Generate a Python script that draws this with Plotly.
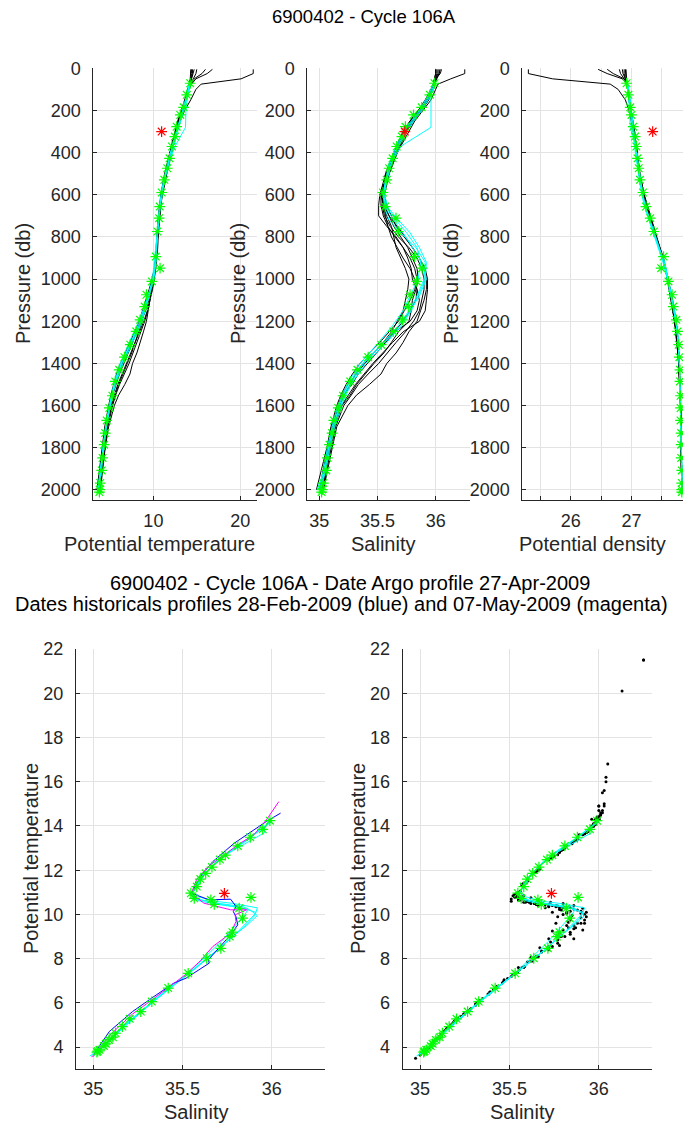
import plotly.graph_objects as go

W, H = 683, 1126

# ---------------- Argo profile (green stars) ----------------
P_ARGO = [71, 126, 185, 221, 277, 324, 371, 427, 474, 529, 589, 656, 711, 774, 893, 948, 1011, 1074,
          1130, 1193, 1248, 1311, 1370, 1430, 1485, 1553, 1611, 1670, 1730, 1785, 1848, 1907, 1967, 1998, 2010]
T_ARGO = [14.24, 13.85, 13.49, 13.1, 12.68, 12.48, 12.14, 11.86, 11.6, 11.26, 10.96, 10.73, 10.66, 10.46,
          10.28, 10.77, 9.83, 9.2, 9.0, 8.47, 8.02, 7.34, 6.67, 6.06, 5.61, 5.28, 4.93, 4.63, 4.45, 4.33,
          4.15, 4.05, 3.88, 3.82, 3.78]
S_ARGO = [35.99, 35.95, 35.88, 35.81, 35.74, 35.71, 35.665, 35.63, 35.60, 35.58, 35.547, 35.566, 35.659,
          35.678, 35.818, 35.884, 35.837, 35.78, 35.765, 35.715, 35.636, 35.532, 35.42, 35.328, 35.266,
          35.204, 35.163, 35.125, 35.11, 35.088, 35.07, 35.06, 35.035, 35.025, 35.02]
SIG_ARGO = [26.92, 26.95, 26.98, 27.0, 27.03, 27.06, 27.08, 27.10, 27.12, 27.14, 27.19, 27.24, 27.31, 27.37,
            27.53, 27.49, 27.61, 27.67, 27.69, 27.74, 27.76, 27.78, 27.79, 27.80, 27.80, 27.81, 27.81, 27.81,
            27.82, 27.82, 27.82, 27.83, 27.83, 27.83, 27.83]

# ---------------- flagged point (red star) ----------------
P_RED = 300
T_RED = 10.95
S_RED = 35.735
SIG_RED = 27.35

# ---------------- historical profiles (black) ----------------
P_HIST = [5, 25, 50, 75, 100, 150, 200, 250, 300, 400, 500, 600, 650, 700, 750, 800, 850, 900, 950, 1000,
          1050, 1100, 1150, 1200, 1250, 1300, 1350, 1400, 1450, 1500, 1550, 1600, 1700, 1800, 1900, 2000]
T_HIST = [
    [21.5, 21.5, 20.1, 15.5, 14.9, 14.3, 13.6, 13.1, 12.7, 12.1, 11.55, 11.05, 10.85, 10.75, 10.62, 10.55, 10.5, 10.4, 10.28, 10.1, 9.9, 9.6, 9.3, 8.9, 8.4, 7.9, 7.4, 6.9, 6.4, 5.9, 5.5, 5.15, 4.65, 4.3, 4.05, 3.8],
    [16.8, 16.2, 14.9, 14.4, 14.1, 13.75, 13.35, 12.95, 12.6, 12.0, 11.4, 10.9, 10.72, 10.6, 10.5, 10.45, 10.4, 10.3, 10.15, 9.95, 9.65, 9.3, 9.0, 8.7, 8.3, 7.9, 7.5, 7.0, 6.5, 6.0, 5.6, 5.2, 4.7, 4.35, 4.1, 3.85],
    [16.0, 15.6, 14.7, 14.3, 14.0, 13.6, 13.2, 12.8, 12.5, 11.9, 11.3, 10.85, 10.7, 10.6, 10.55, 10.5, 10.45, 10.35, 10.2, 10.0, 9.8, 9.5, 9.1, 8.6, 8.1, 7.6, 7.1, 6.6, 6.1, 5.7, 5.3, 5.0, 4.5, 4.2, 3.95, 3.7],
    [15.0, 14.9, 14.6, 14.3, 14.0, 13.65, 13.3, 12.9, 12.55, 11.95, 11.4, 10.95, 10.8, 10.7, 10.6, 10.5, 10.42, 10.3, 10.1, 9.9, 9.6, 9.25, 8.9, 8.5, 8.05, 7.6, 7.05, 6.5, 6.0, 5.5, 5.2, 4.9, 4.45, 4.15, 3.9, 3.65],
    [14.7, 14.6, 14.4, 14.2, 14.0, 13.7, 13.35, 12.95, 12.6, 12.0, 11.45, 10.95, 10.8, 10.65, 10.55, 10.45, 10.38, 10.3, 10.2, 10.05, 9.85, 9.6, 9.35, 9.0, 8.55, 8.1, 7.65, 7.2, 6.65, 6.1, 5.65, 5.3, 4.75, 4.4, 4.1, 3.85],
    [14.5, 14.5, 14.35, 14.2, 14.05, 13.75, 13.4, 13.0, 12.65, 12.05, 11.5, 11.0, 10.85, 10.7, 10.6, 10.5, 10.45, 10.35, 10.22, 10.05, 9.75, 9.4, 9.0, 8.55, 8.05, 7.5, 6.95, 6.4, 5.95, 5.6, 5.3, 5.05, 4.6, 4.3, 4.05, 3.8],
    [14.4, 14.4, 14.3, 14.15, 14.0, 13.7, 13.3, 12.9, 12.55, 11.95, 11.4, 10.9, 10.75, 10.6, 10.48, 10.4, 10.33, 10.25, 10.15, 10.0, 9.75, 9.6, 9.4, 9.2, 8.85, 8.5, 8.1, 7.6, 7.3, 6.7, 6.0, 5.5, 4.85, 4.45, 4.15, 3.9],
    [14.3, 14.3, 14.25, 14.1, 13.95, 13.65, 13.25, 12.85, 12.5, 11.9, 11.35, 10.9, 10.78, 10.65, 10.55, 10.45, 10.38, 10.3, 10.1, 9.85, 9.5, 9.15, 8.75, 8.35, 7.85, 7.3, 6.75, 6.2, 5.75, 5.4, 5.1, 4.85, 4.4, 4.1, 3.8, 3.5],
]
S_HIST = [
    [36.25, 36.25, 36.13, 36.02, 36.0, 35.96, 35.89, 35.82, 35.77, 35.67, 35.60, 35.56, 35.58, 35.62, 35.66, 35.73, 35.80, 35.86, 35.91, 35.93, 35.93, 35.92, 35.91, 35.86, 35.72, 35.63, 35.545, 35.46, 35.385, 35.31, 35.25, 35.19, 35.125, 35.085, 35.06, 35.02],
    [36.05, 36.04, 36.0, 35.99, 35.97, 35.93, 35.87, 35.80, 35.74, 35.65, 35.58, 35.53, 35.55, 35.60, 35.64, 35.70, 35.76, 35.80, 35.84, 35.85, 35.83, 35.80, 35.79, 35.77, 35.68, 35.62, 35.555, 35.47, 35.395, 35.32, 35.265, 35.195, 35.13, 35.09, 35.065, 35.03],
    [36.04, 36.03, 36.0, 35.98, 35.96, 35.91, 35.85, 35.78, 35.72, 35.64, 35.57, 35.52, 35.51, 35.51, 35.58, 35.66, 35.72, 35.76, 35.79, 35.80, 35.84, 35.86, 35.84, 35.78, 35.65, 35.57, 35.49, 35.41, 35.335, 35.28, 35.21, 35.17, 35.11, 35.075, 35.045, 35.005],
    [36.03, 36.03, 36.01, 35.99, 35.97, 35.92, 35.86, 35.79, 35.73, 35.65, 35.58, 35.54, 35.55, 35.58, 35.62, 35.64, 35.66, 35.70, 35.74, 35.77, 35.76, 35.74, 35.72, 35.67, 35.62, 35.55, 35.47, 35.39, 35.32, 35.245, 35.195, 35.16, 35.11, 35.07, 35.035, 35.0],
    [36.02, 36.02, 36.0, 35.99, 35.97, 35.93, 35.87, 35.80, 35.74, 35.66, 35.59, 35.55, 35.54, 35.56, 35.61, 35.68, 35.77, 35.84, 35.88, 35.90, 35.90, 35.88, 35.86, 35.81, 35.74, 35.66, 35.585, 35.51, 35.42, 35.335, 35.275, 35.21, 35.14, 35.10, 35.065, 35.03],
    [36.01, 36.01, 36.0, 35.99, 35.98, 35.94, 35.88, 35.81, 35.75, 35.67, 35.60, 35.55, 35.55, 35.57, 35.59, 35.62, 35.67, 35.72, 35.78, 35.82, 35.84, 35.83, 35.78, 35.72, 35.645, 35.555, 35.465, 35.38, 35.31, 35.265, 35.21, 35.18, 35.12, 35.085, 35.06, 35.02],
    [36.0, 36.0, 35.99, 35.98, 35.97, 35.93, 35.86, 35.79, 35.73, 35.65, 35.58, 35.54, 35.56, 35.60, 35.67, 35.74, 35.80, 35.86, 35.90, 35.92, 35.92, 35.90, 35.87, 35.84, 35.77, 35.72, 35.66, 35.58, 35.53, 35.43, 35.32, 35.245, 35.15, 35.11, 35.07, 35.035],
    [36.0, 36.0, 35.99, 35.98, 35.96, 35.92, 35.85, 35.78, 35.72, 35.64, 35.57, 35.53, 35.53, 35.55, 35.59, 35.65, 35.72, 35.78, 35.82, 35.84, 35.82, 35.78, 35.73, 35.68, 35.60, 35.52, 35.43, 35.35, 35.285, 35.23, 35.185, 35.15, 35.10, 35.065, 35.02, 34.975],
]
SIG_HIST = [
    [25.3, 25.3, 25.7, 26.65, 26.78, 26.9, 26.96, 27.0, 27.03, 27.08, 27.12, 27.19, 27.24, 27.29, 27.35, 27.41, 27.47, 27.52, 27.56, 27.59, 27.63, 27.66, 27.69, 27.72, 27.74, 27.76, 27.77, 27.78, 27.79, 27.80, 27.80, 27.81, 27.81, 27.82, 27.82, 27.83],
    [26.45, 26.6, 26.85, 26.92, 26.94, 26.96, 26.98, 27.01, 27.04, 27.09, 27.13, 27.2, 27.25, 27.3, 27.35, 27.4, 27.46, 27.52, 27.56, 27.6, 27.64, 27.67, 27.7, 27.72, 27.74, 27.76, 27.77, 27.78, 27.79, 27.8, 27.8, 27.81, 27.81, 27.82, 27.82, 27.83],
    [26.6, 26.7, 26.88, 26.93, 26.95, 26.97, 26.99, 27.02, 27.05, 27.1, 27.14, 27.21, 27.26, 27.3, 27.35, 27.4, 27.46, 27.52, 27.56, 27.6, 27.64, 27.66, 27.69, 27.72, 27.74, 27.76, 27.77, 27.78, 27.79, 27.8, 27.8, 27.81, 27.82, 27.82, 27.83, 27.83],
    [26.8, 26.82, 26.88, 26.92, 26.94, 26.97, 26.99, 27.02, 27.05, 27.09, 27.13, 27.2, 27.25, 27.3, 27.35, 27.4, 27.46, 27.52, 27.56, 27.6, 27.64, 27.67, 27.7, 27.73, 27.75, 27.77, 27.78, 27.79, 27.79, 27.8, 27.8, 27.81, 27.82, 27.82, 27.83, 27.83],
    [26.85, 26.86, 26.9, 26.92, 26.94, 26.96, 26.98, 27.01, 27.04, 27.09, 27.13, 27.2, 27.24, 27.3, 27.35, 27.4, 27.46, 27.52, 27.56, 27.6, 27.63, 27.66, 27.69, 27.71, 27.73, 27.75, 27.77, 27.78, 27.79, 27.8, 27.8, 27.81, 27.81, 27.82, 27.82, 27.83],
    [26.88, 26.88, 26.9, 26.92, 26.94, 26.96, 26.98, 27.01, 27.04, 27.09, 27.13, 27.2, 27.25, 27.3, 27.35, 27.4, 27.46, 27.52, 27.56, 27.6, 27.64, 27.67, 27.7, 27.73, 27.75, 27.77, 27.78, 27.79, 27.79, 27.8, 27.8, 27.81, 27.82, 27.82, 27.83, 27.83],
    [26.9, 26.9, 26.91, 26.93, 26.94, 26.96, 26.98, 27.01, 27.04, 27.09, 27.13, 27.2, 27.25, 27.31, 27.36, 27.41, 27.47, 27.52, 27.56, 27.6, 27.63, 27.66, 27.69, 27.71, 27.73, 27.75, 27.77, 27.78, 27.79, 27.8, 27.8, 27.81, 27.81, 27.82, 27.82, 27.83],
    [26.91, 26.91, 26.92, 26.93, 26.95, 26.97, 26.99, 27.02, 27.05, 27.1, 27.14, 27.21, 27.26, 27.31, 27.36, 27.41, 27.47, 27.53, 27.57, 27.61, 27.65, 27.68, 27.71, 27.74, 27.76, 27.77, 27.78, 27.79, 27.8, 27.8, 27.81, 27.81, 27.82, 27.82, 27.83, 27.83],
]

# ---------------- selected profiles (cyan) ----------------
P_CYAN = [75, 125, 200, 280, 370, 450, 530, 600, 660, 720, 780, 850, 920, 1000, 1080, 1150, 1220, 1300,
          1400, 1500, 1600, 1700, 1800, 1900, 2000]
T_CYAN = [
    [14.2, 13.95, 13.75, 13.7, 12.5, 11.75, 11.25, 10.95, 10.75, 10.6, 10.45, 10.3, 10.1, 9.9, 9.4, 8.9, 8.3, 7.45, 6.3, 5.5, 4.95, 4.5, 4.2, 3.95, 3.6],
    [14.15, 13.9, 13.4, 12.8, 12.2, 11.7, 11.2, 10.9, 10.7, 10.6, 10.45, 10.35, 10.2, 9.95, 9.5, 9.0, 8.4, 7.5, 6.35, 5.55, 5.0, 4.55, 4.25, 4.0, 3.7],
    [14.1, 13.85, 13.35, 12.75, 12.15, 11.65, 11.2, 10.9, 10.7, 10.55, 10.45, 10.35, 10.25, 10.0, 9.35, 8.8, 8.1, 7.2, 6.2, 5.45, 4.9, 4.5, 4.2, 3.95, 3.65],
    [14.25, 14.0, 13.5, 12.9, 12.3, 11.8, 11.3, 11.0, 10.8, 10.6, 10.5, 10.4, 10.3, 10.05, 9.55, 9.05, 8.5, 7.6, 6.5, 5.6, 5.05, 4.6, 4.3, 4.05, 3.75],
]
S_CYAN = [
    [36.0, 35.96, 35.96, 35.96, 35.70, 35.62, 35.58, 35.55, 35.56, 35.60, 35.70, 35.83, 35.91, 35.90, 35.84, 35.77, 35.68, 35.55, 35.37, 35.25, 35.17, 35.12, 35.08, 35.05, 34.98],
    [35.99, 35.95, 35.87, 35.76, 35.67, 35.61, 35.57, 35.55, 35.57, 35.64, 35.72, 35.80, 35.88, 35.92, 35.86, 35.78, 35.70, 35.56, 35.38, 35.26, 35.18, 35.12, 35.08, 35.05, 35.0],
    [35.98, 35.94, 35.86, 35.75, 35.66, 35.60, 35.57, 35.55, 35.58, 35.66, 35.75, 35.84, 35.87, 35.85, 35.78, 35.72, 35.63, 35.51, 35.35, 35.24, 35.16, 35.11, 35.07, 35.04, 34.99],
    [36.0, 35.96, 35.88, 35.77, 35.68, 35.62, 35.58, 35.56, 35.59, 35.68, 35.78, 35.86, 35.92, 35.91, 35.85, 35.79, 35.71, 35.58, 35.40, 35.27, 35.19, 35.13, 35.09, 35.06, 35.01],
]
SIG_CYAN = [
    [26.92, 26.95, 26.97, 26.98, 27.07, 27.11, 27.14, 27.18, 27.23, 27.29, 27.36, 27.45, 27.55, 27.6, 27.66, 27.7, 27.74, 27.77, 27.79, 27.8, 27.81, 27.82, 27.82, 27.83, 27.83],
    [26.93, 26.96, 26.99, 27.02, 27.06, 27.1, 27.14, 27.18, 27.23, 27.3, 27.37, 27.44, 27.53, 27.6, 27.66, 27.7, 27.74, 27.77, 27.79, 27.8, 27.81, 27.82, 27.82, 27.83, 27.83],
    [26.94, 26.97, 27.0, 27.03, 27.07, 27.11, 27.15, 27.19, 27.24, 27.31, 27.38, 27.46, 27.54, 27.61, 27.67, 27.71, 27.75, 27.78, 27.79, 27.8, 27.81, 27.82, 27.82, 27.83, 27.83],
    [26.92, 26.95, 26.98, 27.01, 27.05, 27.09, 27.13, 27.17, 27.22, 27.29, 27.36, 27.44, 27.52, 27.59, 27.65, 27.7, 27.74, 27.77, 27.79, 27.8, 27.81, 27.82, 27.82, 27.83, 27.83],
]

# ---------------- dated historical profiles (blue / magenta), T-S ----------------
S_BLUE = [35.0, 35.02, 35.09, 35.22, 35.34, 35.45, 35.52, 35.65, 35.645, 35.77, 35.81, 35.80, 35.785,
          35.80, 35.77, 35.65, 35.55, 35.6, 35.67, 35.79, 35.9, 35.97, 36.05]
T_BLUE = [3.58, 3.88, 4.71, 5.61, 6.29, 6.89, 7.12, 7.80, 7.95, 9.08, 9.53, 9.90, 10.13, 10.36, 10.69,
          10.66, 10.96, 11.71, 12.39, 13.22, 13.82, 14.20, 14.58]
S_MAG = [34.99, 35.02, 35.1, 35.22, 35.34, 35.45, 35.52, 35.6, 35.67, 35.77, 35.80, 35.795, 35.86,
         35.77, 35.62, 35.55, 35.58, 35.65, 35.74, 35.82, 35.9, 35.97, 36.04]
T_MAG = [3.55, 3.8, 4.6, 5.5, 6.2, 6.85, 7.3, 7.9, 8.55, 9.15, 9.68, 9.98, 10.21, 10.21, 10.51, 10.96,
         11.6, 12.2, 12.75, 13.2, 13.6, 14.27, 15.1]

P_TICKS = [0, 200, 400, 600, 800, 1000, 1200, 1400, 1600, 1800, 2000]
TEMP_TICKS = [4, 6, 8, 10, 12, 14, 16, 18, 20, 22]
SAL_TICKS = [35, 35.5, 36]

FONT = "Liberation Sans, Arial, sans-serif"
INK = "#262626"
GRID = "#e3e3e3"
GREEN = "#00ff00"


def fx(px):
    return px / W


def fy(py):
    return 1 - py / H


fig = go.Figure()


def add_line(x, y, color, ax, width=1.0):
    fig.add_trace(go.Scatter(x=x, y=y, mode="lines", line=dict(color=color, width=width),
                             xaxis="x" + ax, yaxis="y" + ax, hoverinfo="skip"))


def add_stars(x, y, color, ax, size=9):
    fig.add_trace(go.Scatter(x=x, y=y, mode="markers",
                             marker=dict(symbol="asterisk-open", size=size, color=color,
                                         line=dict(color=color, width=1.2)),
                             xaxis="x" + ax, yaxis="y" + ax, hoverinfo="skip"))


# top panels: profiles vs pressure
for ax, hist, cyan, argo, red in [("", T_HIST, T_CYAN, T_ARGO, T_RED),
                                  ("2", S_HIST, S_CYAN, S_ARGO, S_RED),
                                  ("3", SIG_HIST, SIG_CYAN, SIG_ARGO, SIG_RED)]:
    for prof in hist:
        add_line(prof, P_HIST, "black", ax)
    for prof in cyan:
        add_line(prof, P_CYAN, "#00ffff", ax)
    add_stars(argo, P_ARGO, GREEN, ax)
    add_stars([red], [P_RED], "#ff0000", ax)

# bottom left: T-S with dated profiles
for s, t in zip(S_CYAN, T_CYAN):
    add_line(s, t, "#00ffff", "4")
add_line(S_BLUE, T_BLUE, "#0000ff", "4")
add_line(S_MAG, T_MAG, "#ff00ff", "4")
add_stars(S_ARGO, T_ARGO, GREEN, "4")
add_stars([S_RED], [T_RED], "#ff0000", "4")

# bottom right: T-S with all historical points
dots_s = [v for prof in S_HIST for v in prof]
dots_t = [v for prof in T_HIST for v in prof]
fig.add_trace(go.Scatter(x=dots_s, y=dots_t, mode="markers",
                         marker=dict(size=3, color="black"), xaxis="x5", yaxis="y5", hoverinfo="skip"))
for s, t in zip(S_CYAN, T_CYAN):
    add_line(s, t, "#00ffff", "5")
add_stars(S_ARGO, T_ARGO, GREEN, "5")
add_stars([S_RED], [T_RED], "#ff0000", "5")

base = dict(showline=True, linecolor=INK, linewidth=1, ticks="inside", ticklen=4, tickcolor=INK,
            showgrid=True, gridcolor=GRID, gridwidth=1, zeroline=False, mirror=False, automargin=False,
            tickfont=dict(family=FONT, size=18, color=INK), fixedrange=True)

top_y = [fy(500), fy(68.3)]
bot_y = [fy(1069.3), fy(649)]

layout = dict(
    width=W, height=H, margin=dict(l=0, r=0, t=0, b=0, autoexpand=False), showlegend=False,
    paper_bgcolor="white", plot_bgcolor="white",
    font=dict(family=FONT, color=INK),
    xaxis=dict(base, domain=[fx(93.3), fx(256.7)], range=[3.08, 21.9], tickvals=[10, 20],
               anchor="y", ticklabelstandoff=4),
    yaxis=dict(base, domain=top_y, range=[2047.5, 0], tickvals=P_TICKS, anchor="x", ticklabelstandoff=8),
    xaxis2=dict(base, domain=[fx(307.3), fx(470)], range=[34.897, 36.295], tickvals=SAL_TICKS,
                anchor="y2", ticklabelstandoff=4),
    yaxis2=dict(base, domain=top_y, range=[2047.5, 0], tickvals=P_TICKS, anchor="x2", ticklabelstandoff=8),
    xaxis3=dict(base, domain=[fx(522.3), 1.0], range=[25.2, 27.85],
                tickvals=[25.5, 26, 26.5, 27, 27.5], ticktext=["", "26", "", "27", ""],
                anchor="y3", ticklabelstandoff=4),
    yaxis3=dict(base, domain=top_y, range=[2047.5, 0], tickvals=P_TICKS, anchor="x3", ticklabelstandoff=8),
    xaxis4=dict(base, domain=[fx(76), fx(325)], range=[34.903, 36.299], tickvals=SAL_TICKS,
                anchor="y4", ticklabelstandoff=3),
    yaxis4=dict(base, domain=bot_y, range=[3.0, 22.0], tickvals=TEMP_TICKS, anchor="x4", ticklabelstandoff=8),
    xaxis5=dict(base, domain=[fx(402.7), fx(652.3)], range=[34.903, 36.299], tickvals=SAL_TICKS,
                anchor="y5", ticklabelstandoff=3),
    yaxis5=dict(base, domain=bot_y, range=[3.0, 22.0], tickvals=TEMP_TICKS, anchor="x5", ticklabelstandoff=8),
)


def ann(text, x, y, size=20, angle=0, color=INK):
    return dict(text=text, x=fx(x), y=fy(y), xref="paper", yref="paper", showarrow=False,
                xanchor="center", yanchor="middle", textangle=angle,
                font=dict(family=FONT, size=size, color=color))


annotations = [
    ann("6900402 - Cycle 106A", 364, 16, size=18.5, color="black"),
    ann("Pressure (db)", 23, 284, angle=-90),
    ann("Pressure (db)", 238, 284, angle=-90),
    ann("Pressure (db)", 451, 284, angle=-90),
    ann("Potential temperature", 159, 544),
    ann("Salinity", 383, 544),
    ann("Potential density", 592, 544),
    ann("6900402 - Cycle 106A - Date Argo profile 27-Apr-2009", 350, 583, size=20, color="black"),
    ann("Dates historicals profiles 28-Feb-2009 (blue) and 07-May-2009 (magenta)", 341, 604, size=20,
        color="black"),
    ann("Potential temperature", 31, 859, angle=-90),
    ann("Potential temperature", 358, 859, angle=-90),
    ann("Salinity", 196, 1112),
    ann("Salinity", 522, 1112),
]
layout["annotations"] = annotations
fig.update_layout(**layout)

fig.write_html("out.html")
